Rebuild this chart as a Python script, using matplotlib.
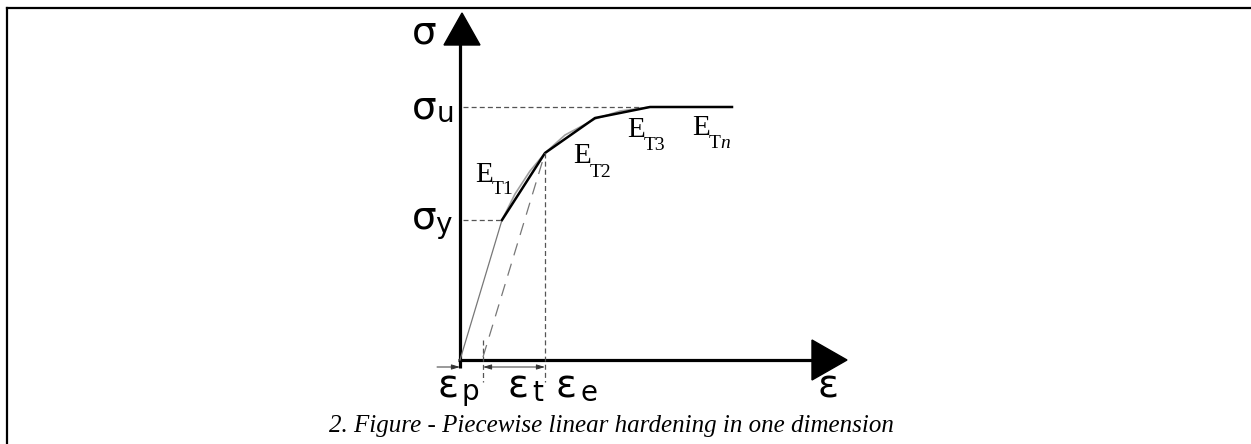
import matplotlib.pyplot as plt
from matplotlib.lines import Line2D
from matplotlib.patches import Polygon

# stress-strain points of the piecewise linear model (1 unit = 100 px)
strain = [0.0, 0.42, 0.85, 1.35, 1.90, 2.72]
stress = [0.0, 1.40, 2.07, 2.42, 2.53, 2.53]

# smooth hardening curve the segments approximate
smooth_strain = [0.42, 0.55, 0.70, 0.85, 1.05, 1.35, 1.60, 1.90]
smooth_stress = [1.40, 1.66, 1.89, 2.07, 2.25, 2.41, 2.49, 2.53]

sigma_y = 1.40
sigma_u = 2.53
eps_p = 0.23   # plastic strain
eps_e = 0.85   # total strain at unloading point
sig_e = 2.07

fig = plt.figure(figsize=(12.51, 4.44), dpi=100)
ax = fig.add_axes([0, 0, 1, 1])
ax.set_xlim(-4.60, 7.91)
ax.set_ylim(-0.84, 3.60)
ax.axis('off')

# page frame
fig.add_artist(Line2D([7 / 1251, 7 / 1251], [0, 1 - 8 / 444], color='black', lw=1.6))
fig.add_artist(Line2D([7 / 1251, 1], [1 - 8 / 444, 1 - 8 / 444], color='black', lw=1.6))

# axes with filled arrow heads
ax.plot([0, 0], [-0.08, 3.16], color='black', lw=2.3, solid_capstyle='butt')
ax.plot([-0.02, 3.53], [0, 0], color='black', lw=2.3, solid_capstyle='butt')
ax.add_patch(Polygon([[-0.16, 3.15], [0.20, 3.15], [0.02, 3.47]], closed=True, color='black'))
ax.add_patch(Polygon([[3.52, 0.20], [3.52, -0.20], [3.87, 0.0]], closed=True, color='black'))

# elastic branch and smooth curve (thin grey)
ax.plot(strain[:2], stress[:2], color='#777777', lw=0.9)
ax.plot(smooth_strain, smooth_stress, color='#a0a0a0', lw=1.2)
# piecewise linear hardening
ax.plot(strain[1:], stress[1:], color='black', lw=1.8)

# elastic unloading line
ax.plot([eps_p, eps_e], [0.03, sig_e], color='#777777', lw=0.9, dashes=(10, 7))

# guide lines
dash = dict(color='#555555', lw=0.9, dashes=(4, 2.5))
ax.plot([0.03, strain[4] - 0.10], [sigma_u, sigma_u], **dash)
ax.plot([0.03, strain[1]], [sigma_y, sigma_y], **dash)
ax.plot([eps_e, eps_e], [sig_e, -0.22], **dash)
ax.plot([eps_p, eps_p], [0.20, -0.22], **dash)

# dimension arrows
arr = dict(arrowstyle='-|>,head_length=0.5,head_width=0.15', color='#333333', lw=0.7,
           shrinkA=0, shrinkB=0)
ax.annotate('', xy=(0, -0.07), xytext=(-0.23, -0.07), arrowprops=arr)
arr2 = dict(arr, arrowstyle='<|-|>,head_length=0.5,head_width=0.15')
ax.annotate('', xy=(eps_p, -0.07), xytext=(eps_e, -0.07), arrowprops=arr2)

sans = 'DejaVu Sans'
big, small = 28, 20
# axis labels
ax.text(-0.48, 3.17, 'σ', family=sans, fontsize=big, ha='left', va='baseline')
ax.text(3.58, -0.37, 'ε', family=sans, fontsize=big, ha='left', va='baseline')

ax.text(-0.48, 2.42, 'σ', family=sans, fontsize=big, ha='left', va='baseline')
ax.text(-0.23, 2.38, 'u', family=sans, fontsize=small, ha='left', va='baseline')
ax.text(-0.48, 1.32, 'σ', family=sans, fontsize=big, ha='left', va='baseline')
ax.text(-0.25, 1.27, 'y', family=sans, fontsize=small, ha='left', va='baseline')

ax.text(-0.23, -0.37, 'ε', family=sans, fontsize=big, ha='left', va='baseline')
ax.text(0.01, -0.40, 'p', family=sans, fontsize=small, ha='left', va='baseline')
ax.text(0.48, -0.37, 'ε', family=sans, fontsize=big, ha='left', va='baseline')
ax.text(0.72, -0.41, 't', family=sans, fontsize=small, ha='left', va='baseline')
ax.text(0.95, -0.37, 'ε', family=sans, fontsize=big, ha='left', va='baseline')
ax.text(1.21, -0.41, 'e', family=sans, fontsize=small, ha='left', va='baseline')

# tangent modulus labels
serif = 'Liberation Serif'
tan_labels = [('T1', 0.15, 1.78, 1.66), ('T2', 1.13, 1.97, 1.83), ('T3', 1.67, 2.23, 2.10)]
for sub, x, yb, ys in tan_labels:
    ax.text(x, yb, 'E', family=serif, fontsize=21, ha='left', va='baseline')
    ax.text(x + 0.165, ys, sub, family=serif, fontsize=14, ha='left', va='baseline')
ax.text(2.32, 2.25, 'E', family=serif, fontsize=21, ha='left', va='baseline')
ax.text(2.485, 2.12, 'T', family=serif, fontsize=14, ha='left', va='baseline')
ax.text(2.60, 2.12, 'n', family=serif, fontsize=14, style='italic', ha='left', va='baseline')

ax.text(1.51, -0.72, '2. Figure - Piecewise linear hardening in one dimension',
        family=serif, style='italic', fontsize=18, ha='center', va='baseline')

fig.savefig('out.png', dpi=100)
